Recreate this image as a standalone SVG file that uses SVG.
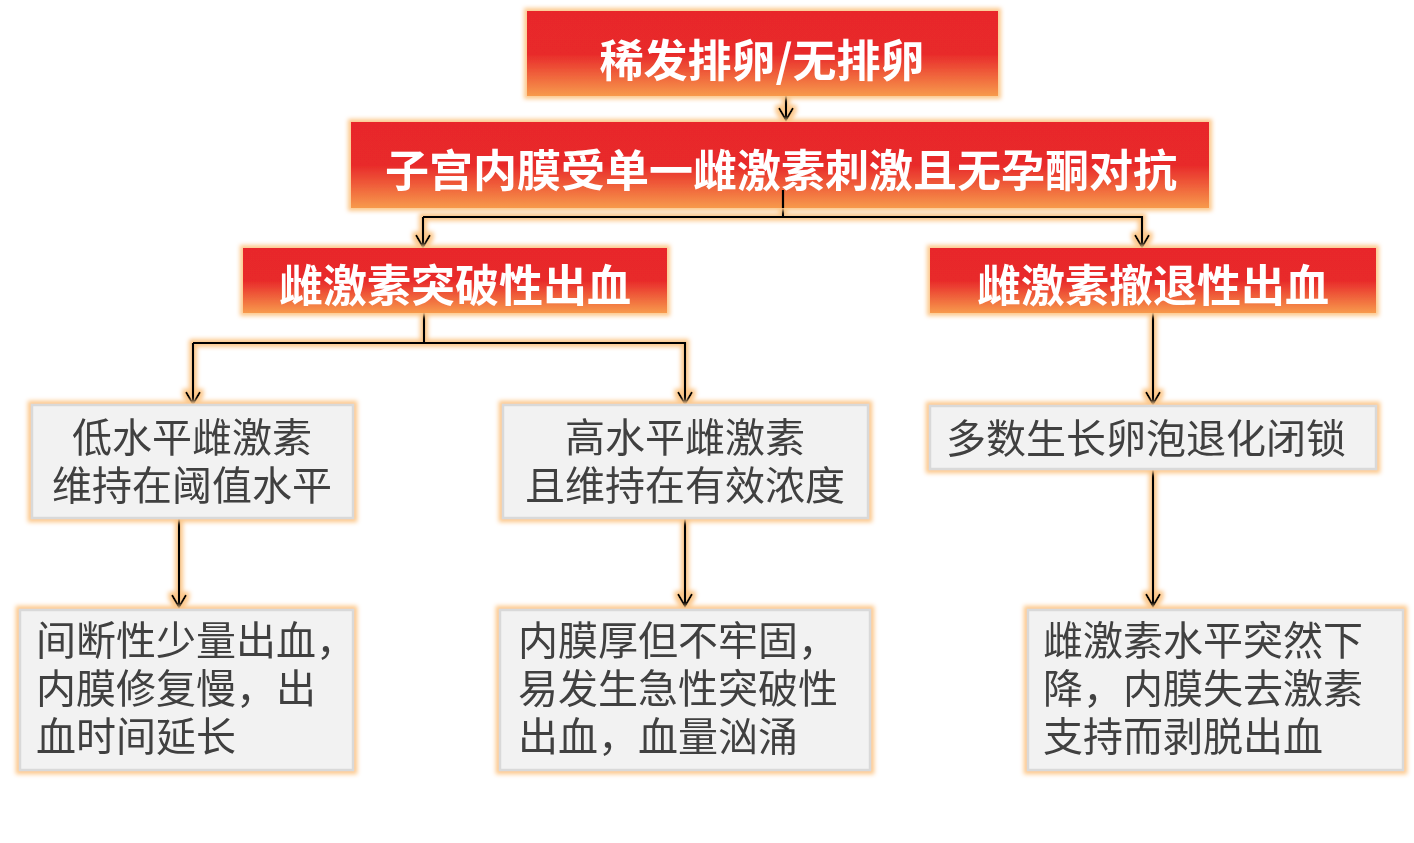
<svg xmlns="http://www.w3.org/2000/svg" width="1414" height="843" viewBox="0 0 1414 843">
<style>
.red{fill:url(#rg);}
.gray{fill:#F2F2F2;stroke:#D9D9D9;stroke-width:2.5;}
.tw{font-family:"Noto Sans CJK SC","Noto Sans CJK JP",sans-serif;font-weight:bold;font-size:44px;fill:#FFFFFF;text-anchor:middle;}
.tg{font-family:"Noto Sans CJK SC","Noto Sans CJK JP",sans-serif;font-size:40px;fill:#404040;}
.c{text-anchor:middle;}
.ln{fill:none;stroke:#000;stroke-width:2.2;}
.ar{marker-end:url(#ah);}
</style>
<defs>
<linearGradient id="rg" x1="0" y1="0" x2="0" y2="1">
<stop offset="0" stop-color="#E8282A"/>
<stop offset="0.5" stop-color="#E8292A"/>
<stop offset="1" stop-color="#F79A4C"/>
</linearGradient>
<filter id="glow" filterUnits="userSpaceOnUse" x="0" y="0" width="1414" height="843">
<feMorphology in="SourceAlpha" operator="dilate" radius="3" result="d"/>
<feGaussianBlur in="d" stdDeviation="2.2" result="b"/>
<feFlood flood-color="#FCC88C" result="f"/>
<feComposite in="f" in2="b" operator="in" result="g"/>
<feMerge><feMergeNode in="g"/><feMergeNode in="SourceGraphic"/></feMerge>
</filter>
<marker id="ah" markerUnits="userSpaceOnUse" viewBox="-16 -10 20 20" refX="0" refY="0" markerWidth="20" markerHeight="20" orient="auto" overflow="visible">
<path d="M-12,-7 L0,0 L-12,7" fill="none" stroke="#000" stroke-width="2.2"/>
</marker>
</defs>
<rect width="1414" height="843" fill="#FFFFFF"/>

<g id="connectors" filter="url(#glow)">
<path class="ln ar" d="M786,96 V120"/>
<path class="ln" d="M783,190 V217 H423"/>
<path class="ln ar" d="M423,217 V247"/>
<path class="ln ar" d="M783,217 H1142 V247"/>
<path class="ln" d="M424,313 V343 H193"/>
<path class="ln ar" d="M193,343 V404"/>
<path class="ln ar" d="M424,343 H685 V404"/>
<path class="ln ar" d="M1153,313 V404"/>
<path class="ln ar" d="M179,519 V607"/>
<path class="ln ar" d="M685,518 V606"/>
<path class="ln ar" d="M1153,469 V606"/>
</g>

<g id="n1" filter="url(#glow)">
<rect class="red" x="527" y="11" width="471" height="85"/>
<text class="tw" x="762" y="77">稀发排卵/无排卵</text>
</g>
<g id="n2" filter="url(#glow)">
<rect class="red" x="351" y="122" width="858" height="86"/>
<text class="tw" x="781" y="187">子宫内膜受单一雌激素刺激且无孕酮对抗</text>
</g>
<path class="ln" d="M783,190 V208"/>
<g id="n3" filter="url(#glow)">
<rect class="red" x="243" y="248" width="424" height="65"/>
<text class="tw" x="455" y="302">雌激素突破性出血</text>
</g>
<g id="n4" filter="url(#glow)">
<rect class="red" x="930" y="248" width="446" height="65"/>
<text class="tw" x="1153" y="302">雌激素撤退性出血</text>
</g>
<g id="n5" filter="url(#glow)">
<rect class="gray" x="32" y="405" width="321" height="113"/>
<text class="tg c" x="192" y="452">低水平雌激素</text>
<text class="tg c" x="192" y="500">维持在阈值水平</text>
</g>
<g id="n6" filter="url(#glow)">
<rect class="gray" x="503" y="405" width="365" height="113"/>
<text class="tg c" x="685" y="452">高水平雌激素</text>
<text class="tg c" x="685" y="500">且维持在有效浓度</text>
</g>
<g id="n7" filter="url(#glow)">
<rect class="gray" x="930" y="406" width="446" height="63"/>
<text class="tg" x="946" y="453">多数生长卵泡退化闭锁</text>
</g>
<g id="n8" filter="url(#glow)">
<rect class="gray" x="20" y="610" width="333" height="160"/>
<text class="tg" x="36" y="655">间断性少量出血，</text>
<text class="tg" x="36" y="703">内膜修复慢，出</text>
<text class="tg" x="36" y="751">血时间延长</text>
</g>
<g id="n9" filter="url(#glow)">
<rect class="gray" x="500" y="610" width="370" height="160"/>
<text class="tg" x="518" y="655">内膜厚但不牢固，</text>
<text class="tg" x="518" y="703">易发生急性突破性</text>
<text class="tg" x="518" y="751">出血，血量汹涌</text>
</g>
<g id="n10" filter="url(#glow)">
<rect class="gray" x="1028" y="610" width="375" height="160"/>
<text class="tg" x="1043" y="655">雌激素水平突然下</text>
<text class="tg" x="1043" y="703">降，内膜失去激素</text>
<text class="tg" x="1043" y="751">支持而剥脱出血</text>
</g>
</svg>
